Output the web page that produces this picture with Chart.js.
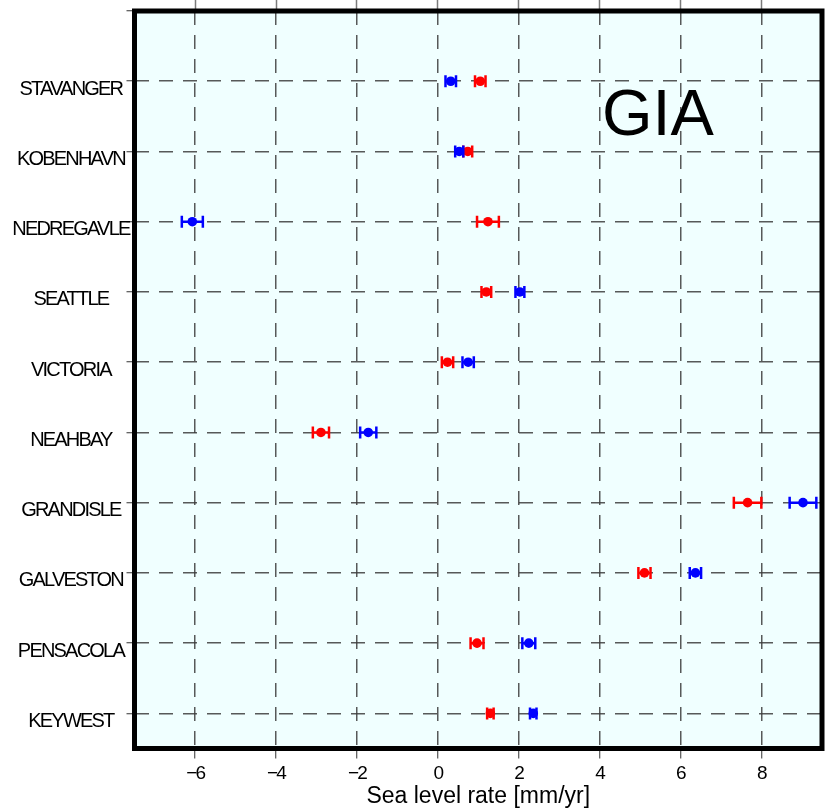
<!DOCTYPE html>
<html lang="en">
<head>
<meta charset="UTF-8">
<script src="https://cdn.jsdelivr.net/npm/chart.js@4.4.1/dist/chart.umd.min.js"></script>
<title>GIA sea level rates</title>
<style>
  body { margin: 0; background: #fff; }
  canvas { display: block; }
</style>
</head>
<body>
<canvas id="myChart" width="825" height="810"></canvas>
<script>
// stations, top to bottom
const stations = ['STAVANGER', 'KOBENHAVN', 'NEDREGAVLE', 'SEATTLE', 'VICTORIA',
                  'NEAHBAY', 'GRANDISLE', 'GALVESTON', 'PENSACOLA', 'KEYWEST'];
// red series: rate and +/- error (mm/yr)
const redRate  = [1.05, 0.74, 1.24, 1.20, 0.24, -2.89, 7.66, 5.11, 0.97, 1.30];
const redErr   = [0.13, 0.11, 0.27, 0.12, 0.14, 0.20, 0.34, 0.15, 0.16, 0.08];
// blue series
const blueRate = [0.32, 0.53, -6.07, 2.03, 0.75, -1.72, 9.03, 6.37, 2.25, 2.36];
const blueErr  = [0.13, 0.10, 0.26, 0.11, 0.14, 0.20, 0.33, 0.14, 0.16, 0.08];
const xTicks = [-6, -4, -2, 0, 2, 4, 6, 8];

const FONT = "'Liberation Sans', Arial, Helvetica, sans-serif";
const TICK_SPACING = '-1.8px';
const GRID = 'rgba(60,60,60,0.85)';

// row number on the y scale: first station at the top
function rowOf(i) { return stations.length - i; }
const yRows = stations.map((s, i) => i + 1).concat(stations.length + 1);

function whiskers(rate, err) {
  const pts = [];
  rate.forEach((v, i) => {
    pts.push({x: v - err[i], y: rowOf(i)}, {x: v + err[i], y: rowOf(i)}, {x: null, y: null});
  });
  return pts;
}
function dots(rate) {
  return rate.map((v, i) => ({x: v, y: rowOf(i)}));
}

function barSet(rate, err, color) {
  return {
    data: whiskers(rate, err),
    borderColor: color, borderWidth: 2.5,
    showLine: true, spanGaps: false,
    pointStyle: 'line', pointRotation: 90, pointRadius: 6,
    pointBorderColor: color, pointBorderWidth: 2.5
  };
}
function dotSet(rate, color) {
  return {
    data: dots(rate),
    showLine: false,
    pointStyle: 'circle', pointRadius: 4.8,
    pointBackgroundColor: color, pointBorderWidth: 0
  };
}

const framePlugin = {
  id: 'frame',
  beforeLayout(chart) {
    chart.ctx.letterSpacing = TICK_SPACING;
  },
  afterLayout(chart) {
    const sx = chart.scales.x;
    if (!sx._plainTitle) {
      const orig = sx.drawTitle.bind(sx);
      sx.drawTitle = function () {
        const old = chart.ctx.letterSpacing;
        chart.ctx.letterSpacing = '0px';
        orig();
        chart.ctx.letterSpacing = old;
      };
      sx._plainTitle = true;
    }
  },
  beforeDraw(chart) {
    const {ctx, chartArea: a} = chart;
    ctx.save();
    ctx.fillStyle = '#F0FFFF';
    ctx.fillRect(a.left, a.top, a.width, a.height);
    ctx.restore();
    ctx.letterSpacing = TICK_SPACING;
  },
  afterDraw(chart) {
    const {ctx, chartArea: a} = chart;
    ctx.save();
    ctx.strokeStyle = '#000';
    ctx.lineWidth = 5;
    ctx.strokeRect(a.left, a.top, a.width, a.height);
    ctx.letterSpacing = '0px';
    ctx.fillStyle = '#000';
    ctx.font = '65px ' + FONT;
    ctx.textBaseline = 'alphabetic';
    ctx.fillText('GIA', a.left + 467.5, 135);
    ctx.restore();
  }
};

Chart.defaults.font.family = FONT;

new Chart(document.getElementById('myChart'), {
  type: 'line',
  data: {
    datasets: [
      barSet(blueRate, blueErr, '#0000FF'),
      dotSet(blueRate, '#0000FF'),
      barSet(redRate, redErr, '#FF0000'),
      dotSet(redRate, '#FF0000')
    ]
  },
  options: {
    responsive: false,
    devicePixelRatio: 1,
    animation: false,
    events: [],
    layout: {autoPadding: false, padding: {top: 0, right: 3, bottom: 0, left: 0}},
    plugins: {legend: {display: false}, tooltip: {enabled: false}},
    scales: {
      x: {
        type: 'linear', position: 'bottom', min: -7.5, max: 9.5,
        afterBuildTicks: s => { s.ticks = xTicks.map(v => ({value: v})); },
        afterFit: s => { s.height = 61.5; },
        grid: {color: GRID, lineWidth: 1.5, tickColor: '#333', tickWidth: 1, tickLength: 10, tickBorderDash: []},
        border: {display: false, dash: [14, 10]},
        ticks: {
          color: '#000', font: {size: 19}, padding: 4, maxRotation: 0, autoSkip: false,
          callback: v => v < 0 ? '\u2212' + Math.abs(v) : String(v)
        },
        title: {display: true, text: 'Sea level rate [mm/yr]', color: '#000', font: {size: 23}, padding: 0}
      },
      x2: {
        type: 'linear', position: 'top', min: -7.5, max: 9.5,
        afterBuildTicks: s => { s.ticks = xTicks.map(v => ({value: v})); },
        afterFit: s => { s.height = 11; },
        grid: {drawOnChartArea: false, tickLength: 11, tickColor: 'rgba(90,90,90,0.8)', tickWidth: 1.5},
        border: {display: false},
        ticks: {display: false}
      },
      y: {
        type: 'linear', position: 'left', min: 0.5, max: stations.length + 1,
        afterBuildTicks: s => { s.ticks = yRows.map(v => ({value: v})); },
        afterFit: s => { s.width = 134.5; },
        grid: {color: GRID, lineWidth: 1.5, tickColor: '#333', tickWidth: 1, tickLength: 8, tickBorderDash: []},
        border: {display: false, dash: [14, 10]},
        ticks: {
          color: '#000', font: {size: 20}, padding: -3, labelOffset: 8,
          crossAlign: 'center', autoSkip: false,
          callback: v => v <= stations.length ? stations[stations.length - v] : ''
        }
      }
    }
  },
  plugins: [framePlugin]
});
</script>
</body>
</html>
